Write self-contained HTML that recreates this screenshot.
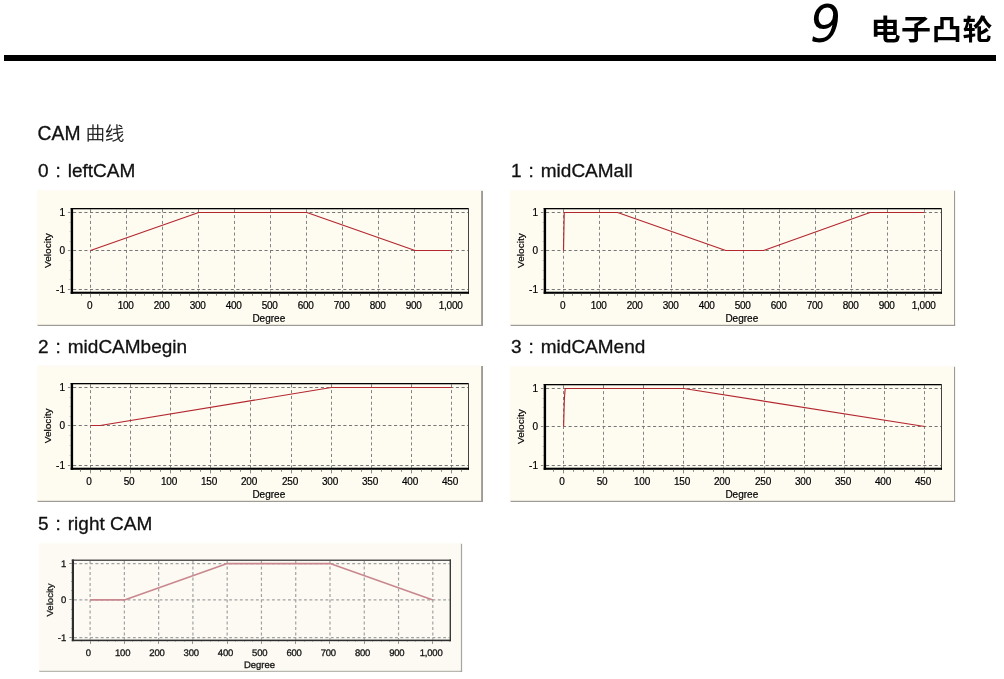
<!DOCTYPE html>
<html lang="zh-CN">
<head>
<meta charset="utf-8">
<title>9 电子凸轮 - CAM 曲线</title>
<style>
html,body{margin:0;padding:0;background:#fff;}
body{width:1004px;height:679px;position:relative;overflow:hidden;font-family:"Liberation Sans","Noto Sans CJK SC",sans-serif;color:#111;}
.abs{position:absolute;white-space:nowrap;margin:0;}
.num{left:810px;top:-6.3px;font-size:51.4px;line-height:60px;transform:scaleX(0.95);transform-origin:0 0;font-style:italic;font-weight:normal;color:#000;font-family:"DejaVu Sans","Liberation Sans",sans-serif;}
.ttl{left:870.4px;top:7.8px;letter-spacing:0.7px;font-size:30px;line-height:40px;font-weight:bold;color:#000;font-family:"Noto Sans CJK SC","Liberation Sans",sans-serif;transform:scaleY(0.95);transform-origin:0 50%;}
.rule{left:4px;top:55px;width:992px;height:6px;background:#000;}
.h{font-size:19px;line-height:22px;-webkit-text-stroke:0.3px #111;font-weight:normal;color:#111;}
.h .c{display:inline-block;width:19.2px;text-align:center;white-space:pre;}
.h .cj{font-family:"Noto Sans CJK SC",sans-serif;font-weight:300;display:inline-block;transform:scaleY(0.96);transform-origin:0 60%;position:relative;top:-0.5px;}
svg.ch{position:absolute;display:block;overflow:visible;}
svg.ch text{font-family:"Liberation Sans",sans-serif;}
svg.soft{filter:blur(0.35px);}
svg.geo text{text-rendering:geometricPrecision;}
</style>
</head>
<body>
<div class="abs num">9</div>
<h1 class="abs ttl">电子凸轮</h1>
<div class="abs rule"></div>
<h2 class="abs h" style="left:37.6px;top:121.3px;font-size:19.3px">CAM <span class="cj">曲线</span></h2>
<h3 class="abs h" style="left:38px;top:160.2px">0<span class="c"> : </span>leftCAM</h3>
<h3 class="abs h" style="left:511px;top:160.2px">1<span class="c"> : </span>midCAMall</h3>
<h3 class="abs h" style="left:38px;top:336.2px">2<span class="c"> : </span>midCAMbegin</h3>
<h3 class="abs h" style="left:511px;top:336.2px">3<span class="c"> : </span>midCAMend</h3>
<h3 class="abs h" style="left:38px;top:513px">5<span class="c"> : </span>right CAM</h3>
<svg class="ch " style="left:36px;top:189px" width="449" height="139" viewBox="0 0 449 139" role="img" aria-label="leftCAM">
<rect x="444.1" y="1.8" width="2.9" height="135.2" fill="#9e9b94"/>
<rect x="1.6" y="134.8" width="445.4" height="2.2" fill="#9e9b94"/>
<rect x="1.6" y="1.8" width="443.5" height="134" fill="#fefbf1"/>
<rect x="1.6" y="0.6" width="443.5" height="1.4" fill="#fefbf1" opacity="0.45"/>
<rect x="0.6" y="1.8" width="1.4" height="134" fill="#fefbf1" opacity="0.45"/>
<g stroke="#767676" stroke-width="1" fill="none">
<line x1="54.5" y1="20.3" x2="54.5" y2="102.7" stroke-dasharray="3.1 2.7" stroke="#848484"/>
<line x1="90.5" y1="20.3" x2="90.5" y2="102.7" stroke-dasharray="3.1 2.7" stroke="#848484"/>
<line x1="126.5" y1="20.3" x2="126.5" y2="102.7" stroke-dasharray="3.1 2.7" stroke="#848484"/>
<line x1="162.5" y1="20.3" x2="162.5" y2="102.7" stroke-dasharray="3.1 2.7" stroke="#848484"/>
<line x1="198.5" y1="20.3" x2="198.5" y2="102.7" stroke-dasharray="3.1 2.7" stroke="#848484"/>
<line x1="234.5" y1="20.3" x2="234.5" y2="102.7" stroke-dasharray="3.1 2.7" stroke="#848484"/>
<line x1="270.5" y1="20.3" x2="270.5" y2="102.7" stroke-dasharray="3.1 2.7" stroke="#848484"/>
<line x1="306.5" y1="20.3" x2="306.5" y2="102.7" stroke-dasharray="3.1 2.7" stroke="#848484"/>
<line x1="342.5" y1="20.3" x2="342.5" y2="102.7" stroke-dasharray="3.1 2.7" stroke="#848484"/>
<line x1="378.5" y1="20.3" x2="378.5" y2="102.7" stroke-dasharray="3.1 2.7" stroke="#848484"/>
<line x1="415.5" y1="20.3" x2="415.5" y2="102.7" stroke-dasharray="3.1 2.7" stroke="#848484"/>
<line x1="37.1" y1="23.5" x2="432" y2="23.5" stroke-dasharray="3.1 2.53"/>
<line x1="37.1" y1="61.5" x2="432" y2="61.5" stroke-dasharray="3.1 2.53"/>
<line x1="37.1" y1="100.5" x2="432" y2="100.5" stroke-dasharray="3.1 2.53"/>
</g>
<polyline points="54.5,61.5 162.68,23.5 270.86,23.5 379.04,61.5 415.1,61.5" fill="none" stroke="#b3272e" stroke-width="1.15" stroke-linejoin="round"/>
<g fill="#000">
<rect x="34.7" y="19" width="398.3" height="1.3" fill="#000"/>
<rect x="432" y="19" width="1" height="85.8" fill="#444"/>
<rect x="34.7" y="19" width="2.4" height="85.8"/>
<rect x="34.7" y="102.7" width="398.3" height="2.1"/>
</g>
<g fill="#8c8c8c">
<rect x="45" y="104.8" width="1" height="2"/>
<rect x="54" y="104.8" width="1" height="3.6"/>
<rect x="63" y="104.8" width="1" height="2"/>
<rect x="72" y="104.8" width="1" height="2"/>
<rect x="81" y="104.8" width="1" height="2"/>
<rect x="90" y="104.8" width="1" height="3.6"/>
<rect x="99" y="104.8" width="1" height="2"/>
<rect x="108" y="104.8" width="1" height="2"/>
<rect x="117" y="104.8" width="1" height="2"/>
<rect x="126" y="104.8" width="1" height="3.6"/>
<rect x="135" y="104.8" width="1" height="2"/>
<rect x="144" y="104.8" width="1" height="2"/>
<rect x="153" y="104.8" width="1" height="2"/>
<rect x="162" y="104.8" width="1" height="3.6"/>
<rect x="171" y="104.8" width="1" height="2"/>
<rect x="180" y="104.8" width="1" height="2"/>
<rect x="189" y="104.8" width="1" height="2"/>
<rect x="198" y="104.8" width="1" height="3.6"/>
<rect x="207" y="104.8" width="1" height="2"/>
<rect x="216" y="104.8" width="1" height="2"/>
<rect x="225" y="104.8" width="1" height="2"/>
<rect x="234" y="104.8" width="1" height="3.6"/>
<rect x="243" y="104.8" width="1" height="2"/>
<rect x="252" y="104.8" width="1" height="2"/>
<rect x="261" y="104.8" width="1" height="2"/>
<rect x="270" y="104.8" width="1" height="3.6"/>
<rect x="279" y="104.8" width="1" height="2"/>
<rect x="288" y="104.8" width="1" height="2"/>
<rect x="297" y="104.8" width="1" height="2"/>
<rect x="306" y="104.8" width="1" height="3.6"/>
<rect x="315" y="104.8" width="1" height="2"/>
<rect x="324" y="104.8" width="1" height="2"/>
<rect x="333" y="104.8" width="1" height="2"/>
<rect x="342" y="104.8" width="1" height="3.6"/>
<rect x="351" y="104.8" width="1" height="2"/>
<rect x="360" y="104.8" width="1" height="2"/>
<rect x="369" y="104.8" width="1" height="2"/>
<rect x="378" y="104.8" width="1" height="3.6"/>
<rect x="387" y="104.8" width="1" height="2"/>
<rect x="396" y="104.8" width="1" height="2"/>
<rect x="405" y="104.8" width="1" height="2"/>
<rect x="415" y="104.8" width="1" height="3.6"/>
<rect x="424" y="104.8" width="1" height="2"/>
<rect x="31.9" y="23" width="2.8" height="1"/>
<rect x="33.8" y="33" width="0.9" height="1"/>
<rect x="33.8" y="42" width="0.9" height="1"/>
<rect x="33.8" y="52" width="0.9" height="1"/>
<rect x="31.9" y="61" width="2.8" height="1"/>
<rect x="33.8" y="71" width="0.9" height="1"/>
<rect x="33.8" y="81" width="0.9" height="1"/>
<rect x="33.8" y="90" width="0.9" height="1"/>
<rect x="31.9" y="100" width="2.8" height="1"/>
</g>
<g font-size="10" fill="#000" stroke="#000" stroke-width="0.2">
<text x="53.7" y="119.9" text-anchor="middle" letter-spacing="-0.2">0</text>
<text x="89.7" y="119.9" text-anchor="middle" letter-spacing="-0.2">100</text>
<text x="125.7" y="119.9" text-anchor="middle" letter-spacing="-0.2">200</text>
<text x="161.7" y="119.9" text-anchor="middle" letter-spacing="-0.2">300</text>
<text x="197.7" y="119.9" text-anchor="middle" letter-spacing="-0.2">400</text>
<text x="233.7" y="119.9" text-anchor="middle" letter-spacing="-0.2">500</text>
<text x="269.7" y="119.9" text-anchor="middle" letter-spacing="-0.2">600</text>
<text x="305.7" y="119.9" text-anchor="middle" letter-spacing="-0.2">700</text>
<text x="341.7" y="119.9" text-anchor="middle" letter-spacing="-0.2">800</text>
<text x="377.7" y="119.9" text-anchor="middle" letter-spacing="-0.2">900</text>
<text x="414.7" y="119.9" text-anchor="middle" letter-spacing="-0.2">1,000</text>
<text x="29" y="26.5" text-anchor="end">1</text>
<text x="29" y="64.5" text-anchor="end">0</text>
<text x="29" y="103.5" text-anchor="end">-1</text>
<text x="232.8" y="132.6" text-anchor="middle">Degree</text>
<text transform="translate(15.1 61.6) rotate(-90) scale(1.01 0.92)" text-anchor="middle" font-size="10">Velocity</text>
</g>
</svg>
<svg class="ch " style="left:509px;top:189px" width="449" height="139" viewBox="0 0 449 139" role="img" aria-label="midCAMall">
<rect x="444" y="1.8" width="2.1" height="135.2" fill="#9e9b94"/>
<rect x="1.6" y="134.8" width="444.5" height="2.2" fill="#9e9b94"/>
<rect x="1.6" y="1.8" width="443.4" height="134" fill="#fefbf1"/>
<rect x="1.6" y="0.6" width="443.4" height="1.4" fill="#fefbf1" opacity="0.45"/>
<rect x="0.6" y="1.8" width="1.4" height="134" fill="#fefbf1" opacity="0.45"/>
<g stroke="#767676" stroke-width="1" fill="none">
<line x1="54.5" y1="20.3" x2="54.5" y2="102.7" stroke-dasharray="3.1 2.7" stroke="#848484"/>
<line x1="90.5" y1="20.3" x2="90.5" y2="102.7" stroke-dasharray="3.1 2.7" stroke="#848484"/>
<line x1="126.5" y1="20.3" x2="126.5" y2="102.7" stroke-dasharray="3.1 2.7" stroke="#848484"/>
<line x1="162.5" y1="20.3" x2="162.5" y2="102.7" stroke-dasharray="3.1 2.7" stroke="#848484"/>
<line x1="198.5" y1="20.3" x2="198.5" y2="102.7" stroke-dasharray="3.1 2.7" stroke="#848484"/>
<line x1="234.5" y1="20.3" x2="234.5" y2="102.7" stroke-dasharray="3.1 2.7" stroke="#848484"/>
<line x1="270.5" y1="20.3" x2="270.5" y2="102.7" stroke-dasharray="3.1 2.7" stroke="#848484"/>
<line x1="306.5" y1="20.3" x2="306.5" y2="102.7" stroke-dasharray="3.1 2.7" stroke="#848484"/>
<line x1="342.5" y1="20.3" x2="342.5" y2="102.7" stroke-dasharray="3.1 2.7" stroke="#848484"/>
<line x1="378.5" y1="20.3" x2="378.5" y2="102.7" stroke-dasharray="3.1 2.7" stroke="#848484"/>
<line x1="415.5" y1="20.3" x2="415.5" y2="102.7" stroke-dasharray="3.1 2.7" stroke="#848484"/>
<line x1="37.1" y1="23.5" x2="432" y2="23.5" stroke-dasharray="3.1 2.53"/>
<line x1="37.1" y1="61.5" x2="432" y2="61.5" stroke-dasharray="3.1 2.53"/>
<line x1="37.1" y1="100.5" x2="432" y2="100.5" stroke-dasharray="3.1 2.53"/>
</g>
<polyline points="54.5,61.5 55.22,23.5 108.59,23.5 216.77,61.5 254.63,61.5 361.01,23.5 415.1,23.5" fill="none" stroke="#b3272e" stroke-width="1.15" stroke-linejoin="round"/>
<g fill="#000">
<rect x="34.7" y="19" width="398.3" height="1.3" fill="#000"/>
<rect x="432" y="19" width="1" height="85.8" fill="#444"/>
<rect x="34.7" y="19" width="2.4" height="85.8"/>
<rect x="34.7" y="102.7" width="398.3" height="2.1"/>
</g>
<g fill="#8c8c8c">
<rect x="45" y="104.8" width="1" height="2"/>
<rect x="54" y="104.8" width="1" height="3.6"/>
<rect x="63" y="104.8" width="1" height="2"/>
<rect x="72" y="104.8" width="1" height="2"/>
<rect x="81" y="104.8" width="1" height="2"/>
<rect x="90" y="104.8" width="1" height="3.6"/>
<rect x="99" y="104.8" width="1" height="2"/>
<rect x="108" y="104.8" width="1" height="2"/>
<rect x="117" y="104.8" width="1" height="2"/>
<rect x="126" y="104.8" width="1" height="3.6"/>
<rect x="135" y="104.8" width="1" height="2"/>
<rect x="144" y="104.8" width="1" height="2"/>
<rect x="153" y="104.8" width="1" height="2"/>
<rect x="162" y="104.8" width="1" height="3.6"/>
<rect x="171" y="104.8" width="1" height="2"/>
<rect x="180" y="104.8" width="1" height="2"/>
<rect x="189" y="104.8" width="1" height="2"/>
<rect x="198" y="104.8" width="1" height="3.6"/>
<rect x="207" y="104.8" width="1" height="2"/>
<rect x="216" y="104.8" width="1" height="2"/>
<rect x="225" y="104.8" width="1" height="2"/>
<rect x="234" y="104.8" width="1" height="3.6"/>
<rect x="243" y="104.8" width="1" height="2"/>
<rect x="252" y="104.8" width="1" height="2"/>
<rect x="261" y="104.8" width="1" height="2"/>
<rect x="270" y="104.8" width="1" height="3.6"/>
<rect x="279" y="104.8" width="1" height="2"/>
<rect x="288" y="104.8" width="1" height="2"/>
<rect x="297" y="104.8" width="1" height="2"/>
<rect x="306" y="104.8" width="1" height="3.6"/>
<rect x="315" y="104.8" width="1" height="2"/>
<rect x="324" y="104.8" width="1" height="2"/>
<rect x="333" y="104.8" width="1" height="2"/>
<rect x="342" y="104.8" width="1" height="3.6"/>
<rect x="351" y="104.8" width="1" height="2"/>
<rect x="360" y="104.8" width="1" height="2"/>
<rect x="369" y="104.8" width="1" height="2"/>
<rect x="378" y="104.8" width="1" height="3.6"/>
<rect x="387" y="104.8" width="1" height="2"/>
<rect x="396" y="104.8" width="1" height="2"/>
<rect x="405" y="104.8" width="1" height="2"/>
<rect x="415" y="104.8" width="1" height="3.6"/>
<rect x="424" y="104.8" width="1" height="2"/>
<rect x="31.9" y="23" width="2.8" height="1"/>
<rect x="33.8" y="33" width="0.9" height="1"/>
<rect x="33.8" y="42" width="0.9" height="1"/>
<rect x="33.8" y="52" width="0.9" height="1"/>
<rect x="31.9" y="61" width="2.8" height="1"/>
<rect x="33.8" y="71" width="0.9" height="1"/>
<rect x="33.8" y="81" width="0.9" height="1"/>
<rect x="33.8" y="90" width="0.9" height="1"/>
<rect x="31.9" y="100" width="2.8" height="1"/>
</g>
<g font-size="10" fill="#000" stroke="#000" stroke-width="0.2">
<text x="53.7" y="119.9" text-anchor="middle" letter-spacing="-0.2">0</text>
<text x="89.7" y="119.9" text-anchor="middle" letter-spacing="-0.2">100</text>
<text x="125.7" y="119.9" text-anchor="middle" letter-spacing="-0.2">200</text>
<text x="161.7" y="119.9" text-anchor="middle" letter-spacing="-0.2">300</text>
<text x="197.7" y="119.9" text-anchor="middle" letter-spacing="-0.2">400</text>
<text x="233.7" y="119.9" text-anchor="middle" letter-spacing="-0.2">500</text>
<text x="269.7" y="119.9" text-anchor="middle" letter-spacing="-0.2">600</text>
<text x="305.7" y="119.9" text-anchor="middle" letter-spacing="-0.2">700</text>
<text x="341.7" y="119.9" text-anchor="middle" letter-spacing="-0.2">800</text>
<text x="377.7" y="119.9" text-anchor="middle" letter-spacing="-0.2">900</text>
<text x="414.7" y="119.9" text-anchor="middle" letter-spacing="-0.2">1,000</text>
<text x="29" y="26.5" text-anchor="end">1</text>
<text x="29" y="64.5" text-anchor="end">0</text>
<text x="29" y="103.5" text-anchor="end">-1</text>
<text x="232.8" y="132.6" text-anchor="middle">Degree</text>
<text transform="translate(15.1 61.6) rotate(-90) scale(1.01 0.92)" text-anchor="middle" font-size="10">Velocity</text>
</g>
</svg>
<svg class="ch " style="left:36px;top:365px" width="449" height="139" viewBox="0 0 449 139" role="img" aria-label="midCAMbegin">
<rect x="444.1" y="1" width="2.9" height="136" fill="#9e9b94"/>
<rect x="1.6" y="134.8" width="445.4" height="2.2" fill="#9e9b94"/>
<rect x="1.6" y="1" width="443.5" height="134.8" fill="#fefbf1"/>
<rect x="1.6" y="-0.2" width="443.5" height="1.4" fill="#fefbf1" opacity="0.45"/>
<rect x="0.6" y="1" width="1.4" height="134.8" fill="#fefbf1" opacity="0.45"/>
<g stroke="#767676" stroke-width="1" fill="none">
<line x1="54.5" y1="19.3" x2="54.5" y2="102.7" stroke-dasharray="3.1 2.7" stroke="#848484"/>
<line x1="94.5" y1="19.3" x2="94.5" y2="102.7" stroke-dasharray="3.1 2.7" stroke="#848484"/>
<line x1="134.5" y1="19.3" x2="134.5" y2="102.7" stroke-dasharray="3.1 2.7" stroke="#848484"/>
<line x1="174.5" y1="19.3" x2="174.5" y2="102.7" stroke-dasharray="3.1 2.7" stroke="#848484"/>
<line x1="214.5" y1="19.3" x2="214.5" y2="102.7" stroke-dasharray="3.1 2.7" stroke="#848484"/>
<line x1="255.5" y1="19.3" x2="255.5" y2="102.7" stroke-dasharray="3.1 2.7" stroke="#848484"/>
<line x1="295.5" y1="19.3" x2="295.5" y2="102.7" stroke-dasharray="3.1 2.7" stroke="#848484"/>
<line x1="335.5" y1="19.3" x2="335.5" y2="102.7" stroke-dasharray="3.1 2.7" stroke="#848484"/>
<line x1="375.5" y1="19.3" x2="375.5" y2="102.7" stroke-dasharray="3.1 2.7" stroke="#848484"/>
<line x1="415.5" y1="19.3" x2="415.5" y2="102.7" stroke-dasharray="3.1 2.7" stroke="#848484"/>
<line x1="37.1" y1="22.5" x2="432" y2="22.5" stroke-dasharray="3.1 2.53"/>
<line x1="37.1" y1="60.5" x2="432" y2="60.5" stroke-dasharray="3.1 2.53"/>
<line x1="37.1" y1="100.5" x2="432" y2="100.5" stroke-dasharray="3.1 2.53"/>
</g>
<polyline points="54.6,60.5 64.23,60.5 295.32,22.5 415.68,22.5" fill="none" stroke="#b3272e" stroke-width="1.15" stroke-linejoin="round"/>
<g fill="#000">
<rect x="34.7" y="18" width="398.3" height="1.3" fill="#000"/>
<rect x="432" y="18" width="1" height="86.8" fill="#444"/>
<rect x="34.7" y="18" width="2.4" height="86.8"/>
<rect x="34.7" y="102.7" width="398.3" height="2.1"/>
</g>
<g fill="#8c8c8c">
<rect x="44" y="104.8" width="1" height="2"/>
<rect x="54" y="104.8" width="1" height="3.6"/>
<rect x="64" y="104.8" width="1" height="2"/>
<rect x="74" y="104.8" width="1" height="2"/>
<rect x="84" y="104.8" width="1" height="2"/>
<rect x="94" y="104.8" width="1" height="3.6"/>
<rect x="104" y="104.8" width="1" height="2"/>
<rect x="114" y="104.8" width="1" height="2"/>
<rect x="124" y="104.8" width="1" height="2"/>
<rect x="134" y="104.8" width="1" height="3.6"/>
<rect x="144" y="104.8" width="1" height="2"/>
<rect x="154" y="104.8" width="1" height="2"/>
<rect x="164" y="104.8" width="1" height="2"/>
<rect x="174" y="104.8" width="1" height="3.6"/>
<rect x="184" y="104.8" width="1" height="2"/>
<rect x="194" y="104.8" width="1" height="2"/>
<rect x="204" y="104.8" width="1" height="2"/>
<rect x="214" y="104.8" width="1" height="3.6"/>
<rect x="225" y="104.8" width="1" height="2"/>
<rect x="235" y="104.8" width="1" height="2"/>
<rect x="245" y="104.8" width="1" height="2"/>
<rect x="255" y="104.8" width="1" height="3.6"/>
<rect x="265" y="104.8" width="1" height="2"/>
<rect x="275" y="104.8" width="1" height="2"/>
<rect x="285" y="104.8" width="1" height="2"/>
<rect x="295" y="104.8" width="1" height="3.6"/>
<rect x="305" y="104.8" width="1" height="2"/>
<rect x="315" y="104.8" width="1" height="2"/>
<rect x="325" y="104.8" width="1" height="2"/>
<rect x="335" y="104.8" width="1" height="3.6"/>
<rect x="345" y="104.8" width="1" height="2"/>
<rect x="355" y="104.8" width="1" height="2"/>
<rect x="365" y="104.8" width="1" height="2"/>
<rect x="375" y="104.8" width="1" height="3.6"/>
<rect x="385" y="104.8" width="1" height="2"/>
<rect x="395" y="104.8" width="1" height="2"/>
<rect x="405" y="104.8" width="1" height="2"/>
<rect x="415" y="104.8" width="1" height="3.6"/>
<rect x="425" y="104.8" width="1" height="2"/>
<rect x="31.9" y="22" width="2.8" height="1"/>
<rect x="33.8" y="32" width="0.9" height="1"/>
<rect x="33.8" y="41" width="0.9" height="1"/>
<rect x="33.8" y="51" width="0.9" height="1"/>
<rect x="31.9" y="60" width="2.8" height="1"/>
<rect x="33.8" y="70" width="0.9" height="1"/>
<rect x="33.8" y="80" width="0.9" height="1"/>
<rect x="33.8" y="90" width="0.9" height="1"/>
<rect x="31.9" y="100" width="2.8" height="1"/>
</g>
<g font-size="10" fill="#000" stroke="#000" stroke-width="0.2">
<text x="53" y="119.9" text-anchor="middle" letter-spacing="-0.2">0</text>
<text x="93" y="119.9" text-anchor="middle" letter-spacing="-0.2">50</text>
<text x="133" y="119.9" text-anchor="middle" letter-spacing="-0.2">100</text>
<text x="173" y="119.9" text-anchor="middle" letter-spacing="-0.2">150</text>
<text x="213" y="119.9" text-anchor="middle" letter-spacing="-0.2">200</text>
<text x="254" y="119.9" text-anchor="middle" letter-spacing="-0.2">250</text>
<text x="294" y="119.9" text-anchor="middle" letter-spacing="-0.2">300</text>
<text x="334" y="119.9" text-anchor="middle" letter-spacing="-0.2">350</text>
<text x="374" y="119.9" text-anchor="middle" letter-spacing="-0.2">400</text>
<text x="414" y="119.9" text-anchor="middle" letter-spacing="-0.2">450</text>
<text x="29" y="25.5" text-anchor="end">1</text>
<text x="29" y="63.5" text-anchor="end">0</text>
<text x="29" y="103.5" text-anchor="end">-1</text>
<text x="232.8" y="132.6" text-anchor="middle">Degree</text>
<text transform="translate(15.1 60.9) rotate(-90) scale(1.01 0.92)" text-anchor="middle" font-size="10">Velocity</text>
</g>
</svg>
<svg class="ch " style="left:509px;top:365px" width="449" height="139" viewBox="0 0 449 139" role="img" aria-label="midCAMend">
<rect x="444" y="1.8" width="2.1" height="135.2" fill="#9e9b94"/>
<rect x="1.6" y="134.8" width="444.5" height="2.2" fill="#9e9b94"/>
<rect x="1.6" y="1.8" width="443.4" height="134" fill="#fefbf1"/>
<rect x="1.6" y="0.6" width="443.4" height="1.4" fill="#fefbf1" opacity="0.45"/>
<rect x="0.6" y="1.8" width="1.4" height="134" fill="#fefbf1" opacity="0.45"/>
<g stroke="#767676" stroke-width="1" fill="none">
<line x1="54.5" y1="20.3" x2="54.5" y2="102.7" stroke-dasharray="3.1 2.7" stroke="#848484"/>
<line x1="94.5" y1="20.3" x2="94.5" y2="102.7" stroke-dasharray="3.1 2.7" stroke="#848484"/>
<line x1="134.5" y1="20.3" x2="134.5" y2="102.7" stroke-dasharray="3.1 2.7" stroke="#848484"/>
<line x1="174.5" y1="20.3" x2="174.5" y2="102.7" stroke-dasharray="3.1 2.7" stroke="#848484"/>
<line x1="214.5" y1="20.3" x2="214.5" y2="102.7" stroke-dasharray="3.1 2.7" stroke="#848484"/>
<line x1="255.5" y1="20.3" x2="255.5" y2="102.7" stroke-dasharray="3.1 2.7" stroke="#848484"/>
<line x1="295.5" y1="20.3" x2="295.5" y2="102.7" stroke-dasharray="3.1 2.7" stroke="#848484"/>
<line x1="335.5" y1="20.3" x2="335.5" y2="102.7" stroke-dasharray="3.1 2.7" stroke="#848484"/>
<line x1="375.5" y1="20.3" x2="375.5" y2="102.7" stroke-dasharray="3.1 2.7" stroke="#848484"/>
<line x1="415.5" y1="20.3" x2="415.5" y2="102.7" stroke-dasharray="3.1 2.7" stroke="#848484"/>
<line x1="37.1" y1="23.5" x2="432" y2="23.5" stroke-dasharray="3.1 2.53"/>
<line x1="37.1" y1="61.5" x2="432" y2="61.5" stroke-dasharray="3.1 2.53"/>
<line x1="37.1" y1="100.5" x2="432" y2="100.5" stroke-dasharray="3.1 2.53"/>
</g>
<polyline points="54.6,61.5 55.4,33 56.2,23.5 174.96,23.5 415.68,61.5" fill="none" stroke="#b3272e" stroke-width="1.15" stroke-linejoin="round"/>
<g fill="#000">
<rect x="34.7" y="19" width="398.3" height="1.3" fill="#000"/>
<rect x="432" y="19" width="1" height="85.8" fill="#444"/>
<rect x="34.7" y="19" width="2.4" height="85.8"/>
<rect x="34.7" y="102.7" width="398.3" height="2.1"/>
</g>
<g fill="#8c8c8c">
<rect x="44" y="104.8" width="1" height="2"/>
<rect x="54" y="104.8" width="1" height="3.6"/>
<rect x="64" y="104.8" width="1" height="2"/>
<rect x="74" y="104.8" width="1" height="2"/>
<rect x="84" y="104.8" width="1" height="2"/>
<rect x="94" y="104.8" width="1" height="3.6"/>
<rect x="104" y="104.8" width="1" height="2"/>
<rect x="114" y="104.8" width="1" height="2"/>
<rect x="124" y="104.8" width="1" height="2"/>
<rect x="134" y="104.8" width="1" height="3.6"/>
<rect x="144" y="104.8" width="1" height="2"/>
<rect x="154" y="104.8" width="1" height="2"/>
<rect x="164" y="104.8" width="1" height="2"/>
<rect x="174" y="104.8" width="1" height="3.6"/>
<rect x="184" y="104.8" width="1" height="2"/>
<rect x="194" y="104.8" width="1" height="2"/>
<rect x="204" y="104.8" width="1" height="2"/>
<rect x="214" y="104.8" width="1" height="3.6"/>
<rect x="225" y="104.8" width="1" height="2"/>
<rect x="235" y="104.8" width="1" height="2"/>
<rect x="245" y="104.8" width="1" height="2"/>
<rect x="255" y="104.8" width="1" height="3.6"/>
<rect x="265" y="104.8" width="1" height="2"/>
<rect x="275" y="104.8" width="1" height="2"/>
<rect x="285" y="104.8" width="1" height="2"/>
<rect x="295" y="104.8" width="1" height="3.6"/>
<rect x="305" y="104.8" width="1" height="2"/>
<rect x="315" y="104.8" width="1" height="2"/>
<rect x="325" y="104.8" width="1" height="2"/>
<rect x="335" y="104.8" width="1" height="3.6"/>
<rect x="345" y="104.8" width="1" height="2"/>
<rect x="355" y="104.8" width="1" height="2"/>
<rect x="365" y="104.8" width="1" height="2"/>
<rect x="375" y="104.8" width="1" height="3.6"/>
<rect x="385" y="104.8" width="1" height="2"/>
<rect x="395" y="104.8" width="1" height="2"/>
<rect x="405" y="104.8" width="1" height="2"/>
<rect x="415" y="104.8" width="1" height="3.6"/>
<rect x="425" y="104.8" width="1" height="2"/>
<rect x="31.9" y="23" width="2.8" height="1"/>
<rect x="33.8" y="33" width="0.9" height="1"/>
<rect x="33.8" y="42" width="0.9" height="1"/>
<rect x="33.8" y="52" width="0.9" height="1"/>
<rect x="31.9" y="61" width="2.8" height="1"/>
<rect x="33.8" y="71" width="0.9" height="1"/>
<rect x="33.8" y="81" width="0.9" height="1"/>
<rect x="33.8" y="90" width="0.9" height="1"/>
<rect x="31.9" y="100" width="2.8" height="1"/>
</g>
<g font-size="10" fill="#000" stroke="#000" stroke-width="0.2">
<text x="53" y="119.9" text-anchor="middle" letter-spacing="-0.2">0</text>
<text x="93" y="119.9" text-anchor="middle" letter-spacing="-0.2">50</text>
<text x="133" y="119.9" text-anchor="middle" letter-spacing="-0.2">100</text>
<text x="173" y="119.9" text-anchor="middle" letter-spacing="-0.2">150</text>
<text x="213" y="119.9" text-anchor="middle" letter-spacing="-0.2">200</text>
<text x="254" y="119.9" text-anchor="middle" letter-spacing="-0.2">250</text>
<text x="294" y="119.9" text-anchor="middle" letter-spacing="-0.2">300</text>
<text x="334" y="119.9" text-anchor="middle" letter-spacing="-0.2">350</text>
<text x="374" y="119.9" text-anchor="middle" letter-spacing="-0.2">400</text>
<text x="414" y="119.9" text-anchor="middle" letter-spacing="-0.2">450</text>
<text x="29" y="26.5" text-anchor="end">1</text>
<text x="29" y="64.5" text-anchor="end">0</text>
<text x="29" y="103.5" text-anchor="end">-1</text>
<text x="232.8" y="132.6" text-anchor="middle">Degree</text>
<text transform="translate(15.1 61.6) rotate(-90) scale(1.01 0.92)" text-anchor="middle" font-size="10">Velocity</text>
</g>
</svg>
<svg class="ch soft geo" style="left:38px;top:542px" width="426" height="132" viewBox="0 0 426 132" role="img" aria-label="right CAM">
<rect x="421.9" y="1.8" width="2.2" height="128" fill="#a8a6a0"/>
<rect x="1.3" y="127.8" width="422.8" height="2" fill="#a8a6a0"/>
<rect x="1.3" y="1.8" width="421.6" height="127" fill="#fcfaf2"/>
<rect x="1.3" y="0.6" width="421.6" height="1.4" fill="#fcfaf2" opacity="0.45"/>
<rect x="0.3" y="1.8" width="1.4" height="127" fill="#fcfaf2" opacity="0.45"/>
<g stroke="#a2a2a2" stroke-width="1.2" fill="none">
<line x1="52.1" y1="19" x2="52.1" y2="97.6" stroke-dasharray="2.9 2.6" stroke="#a2a2a2"/>
<line x1="86.37" y1="19" x2="86.37" y2="97.6" stroke-dasharray="2.9 2.6" stroke="#a2a2a2"/>
<line x1="120.64" y1="19" x2="120.64" y2="97.6" stroke-dasharray="2.9 2.6" stroke="#a2a2a2"/>
<line x1="154.91" y1="19" x2="154.91" y2="97.6" stroke-dasharray="2.9 2.6" stroke="#a2a2a2"/>
<line x1="189.18" y1="19" x2="189.18" y2="97.6" stroke-dasharray="2.9 2.6" stroke="#a2a2a2"/>
<line x1="223.45" y1="19" x2="223.45" y2="97.6" stroke-dasharray="2.9 2.6" stroke="#a2a2a2"/>
<line x1="257.72" y1="19" x2="257.72" y2="97.6" stroke-dasharray="2.9 2.6" stroke="#a2a2a2"/>
<line x1="291.99" y1="19" x2="291.99" y2="97.6" stroke-dasharray="2.9 2.6" stroke="#a2a2a2"/>
<line x1="326.26" y1="19" x2="326.26" y2="97.6" stroke-dasharray="2.9 2.6" stroke="#a2a2a2"/>
<line x1="360.53" y1="19" x2="360.53" y2="97.6" stroke-dasharray="2.9 2.6" stroke="#a2a2a2"/>
<line x1="394.8" y1="19" x2="394.8" y2="97.6" stroke-dasharray="2.9 2.6" stroke="#a2a2a2"/>
<line x1="36" y1="21.6" x2="411.6" y2="21.6" stroke-dasharray="2.9 2.45"/>
<line x1="36" y1="57.9" x2="411.6" y2="57.9" stroke-dasharray="2.9 2.45"/>
<line x1="36" y1="95.6" x2="411.6" y2="95.6" stroke-dasharray="2.9 2.45"/>
</g>
<polyline points="52.2,57.9 86.47,57.9 189.28,21.6 292.09,21.6 394.9,57.9" fill="none" stroke="#c9878f" stroke-width="1.6" stroke-linejoin="round"/>
<g fill="#2e2e2e">
<rect x="33.8" y="17.5" width="379.2" height="1.5" fill="#555"/>
<rect x="411.6" y="17.5" width="1.4" height="81.7" fill="#3a3a3a"/>
<rect x="33.8" y="17.5" width="2.2" height="81.7"/>
<rect x="33.8" y="97.6" width="379.2" height="1.6"/>
</g>
<g fill="#8a8a8a">
<rect x="43" y="99.2" width="1" height="0.6"/>
<rect x="52" y="99.2" width="1" height="2.6"/>
<rect x="60" y="99.2" width="1" height="0.6"/>
<rect x="69" y="99.2" width="1" height="0.6"/>
<rect x="77" y="99.2" width="1" height="0.6"/>
<rect x="86" y="99.2" width="1" height="2.6"/>
<rect x="94" y="99.2" width="1" height="0.6"/>
<rect x="103" y="99.2" width="1" height="0.6"/>
<rect x="112" y="99.2" width="1" height="0.6"/>
<rect x="120" y="99.2" width="1" height="2.6"/>
<rect x="129" y="99.2" width="1" height="0.6"/>
<rect x="137" y="99.2" width="1" height="0.6"/>
<rect x="146" y="99.2" width="1" height="0.6"/>
<rect x="154" y="99.2" width="1" height="2.6"/>
<rect x="163" y="99.2" width="1" height="0.6"/>
<rect x="172" y="99.2" width="1" height="0.6"/>
<rect x="180" y="99.2" width="1" height="0.6"/>
<rect x="189" y="99.2" width="1" height="2.6"/>
<rect x="197" y="99.2" width="1" height="0.6"/>
<rect x="206" y="99.2" width="1" height="0.6"/>
<rect x="214" y="99.2" width="1" height="0.6"/>
<rect x="223" y="99.2" width="1" height="2.6"/>
<rect x="232" y="99.2" width="1" height="0.6"/>
<rect x="240" y="99.2" width="1" height="0.6"/>
<rect x="249" y="99.2" width="1" height="0.6"/>
<rect x="257" y="99.2" width="1" height="2.6"/>
<rect x="266" y="99.2" width="1" height="0.6"/>
<rect x="274" y="99.2" width="1" height="0.6"/>
<rect x="283" y="99.2" width="1" height="0.6"/>
<rect x="291" y="99.2" width="1" height="2.6"/>
<rect x="300" y="99.2" width="1" height="0.6"/>
<rect x="309" y="99.2" width="1" height="0.6"/>
<rect x="317" y="99.2" width="1" height="0.6"/>
<rect x="326" y="99.2" width="1" height="2.6"/>
<rect x="334" y="99.2" width="1" height="0.6"/>
<rect x="343" y="99.2" width="1" height="0.6"/>
<rect x="351" y="99.2" width="1" height="0.6"/>
<rect x="360" y="99.2" width="1" height="2.6"/>
<rect x="369" y="99.2" width="1" height="0.6"/>
<rect x="377" y="99.2" width="1" height="0.6"/>
<rect x="386" y="99.2" width="1" height="0.6"/>
<rect x="394" y="99.2" width="1" height="2.6"/>
<rect x="403" y="99.2" width="1" height="0.6"/>
<rect x="411" y="99.2" width="1" height="0.6"/>
<rect x="31.3" y="21" width="2.5" height="1"/>
<rect x="33" y="30" width="0.8" height="1"/>
<rect x="33" y="39" width="0.8" height="1"/>
<rect x="33" y="48" width="0.8" height="1"/>
<rect x="31.3" y="57" width="2.5" height="1"/>
<rect x="33" y="67" width="0.8" height="1"/>
<rect x="33" y="76" width="0.8" height="1"/>
<rect x="33" y="86" width="0.8" height="1"/>
<rect x="31.3" y="95" width="2.5" height="1"/>
</g>
<g font-size="9.5" fill="#1a1a1a" stroke="#111" stroke-width="0.3">
<text x="50.4" y="114.2" text-anchor="middle" letter-spacing="-0.2">0</text>
<text x="84.67" y="114.2" text-anchor="middle" letter-spacing="-0.2">100</text>
<text x="118.94" y="114.2" text-anchor="middle" letter-spacing="-0.2">200</text>
<text x="153.21" y="114.2" text-anchor="middle" letter-spacing="-0.2">300</text>
<text x="187.48" y="114.2" text-anchor="middle" letter-spacing="-0.2">400</text>
<text x="221.75" y="114.2" text-anchor="middle" letter-spacing="-0.2">500</text>
<text x="256.02" y="114.2" text-anchor="middle" letter-spacing="-0.2">600</text>
<text x="290.29" y="114.2" text-anchor="middle" letter-spacing="-0.2">700</text>
<text x="324.56" y="114.2" text-anchor="middle" letter-spacing="-0.2">800</text>
<text x="358.83" y="114.2" text-anchor="middle" letter-spacing="-0.2">900</text>
<text x="393.1" y="114.2" text-anchor="middle" letter-spacing="-0.2">1,000</text>
<text x="28.2" y="24.6" text-anchor="end">1</text>
<text x="28.2" y="60.9" text-anchor="end">0</text>
<text x="28.2" y="98.6" text-anchor="end">-1</text>
<text x="221.5" y="126" text-anchor="middle">Degree</text>
<text transform="translate(14.6 58) rotate(-90) scale(1.01 0.92)" text-anchor="middle" font-size="9.5">Velocity</text>
</g>
</svg>
</body>
</html>
